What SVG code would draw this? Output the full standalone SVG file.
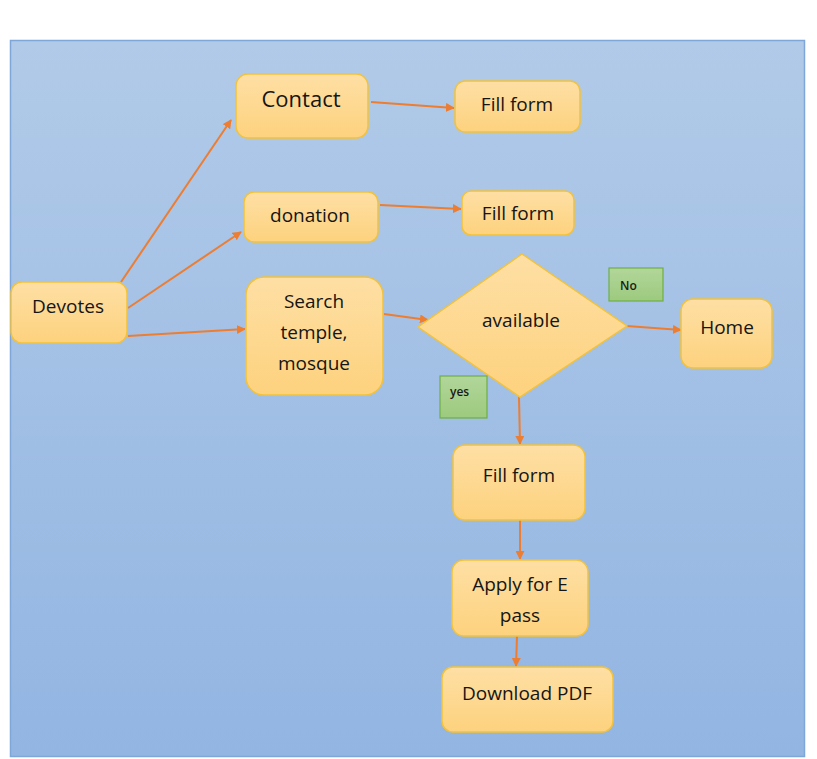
<svg xmlns="http://www.w3.org/2000/svg" width="817" height="759" viewBox="0 0 817 759">
<defs>
<linearGradient id="bg" x1="0" y1="0" x2="0" y2="1"><stop offset="0" stop-color="#b1cae8"/><stop offset="1" stop-color="#92b5e2"/></linearGradient>
<linearGradient id="nd" x1="0" y1="0" x2="0" y2="1"><stop offset="0" stop-color="#fedfa4"/><stop offset="1" stop-color="#fdd27e"/></linearGradient>
<linearGradient id="gr" x1="0" y1="0" x2="0" y2="1"><stop offset="0" stop-color="#b2d69a"/><stop offset="1" stop-color="#9cca7e"/></linearGradient>
<marker id="ah" viewBox="0 0 10 10" refX="9" refY="5" markerWidth="9" markerHeight="9" markerUnits="userSpaceOnUse" orient="auto"><path d="M0,0 L10,5 L0,10 z" fill="#ed7d31"/></marker>
</defs>
<style>
.n{fill:url(#nd);stroke:#f2c23c;stroke-width:1.5}
.g{fill:url(#gr);stroke:#6fae47;stroke-width:1.2}
.t{font-family:"Open Sans","Liberation Sans",sans-serif;font-size:19px;fill:#151515;text-anchor:middle}
.s{font-family:"Open Sans","Liberation Sans",sans-serif;font-size:12px;font-weight:600;fill:#1a1a1a}
.c{stroke:#ed7d31;stroke-width:2;fill:none;marker-end:url(#ah)}
</style>
<rect x="0" y="0" width="817" height="759" fill="#ffffff"/>
<rect x="10.5" y="40.5" width="794" height="716" fill="url(#bg)" stroke="#7fa6d9" stroke-width="1.5"/>
<g id="connectors">
<line class="c" x1="121" y1="282" x2="231" y2="120"/>
<line class="c" x1="128" y1="308" x2="241" y2="232"/>
<line class="c" x1="128" y1="336" x2="245" y2="329"/>
<line class="c" x1="371" y1="102" x2="454" y2="108"/>
<line class="c" x1="380" y1="205" x2="461" y2="209"/>
<line class="c" x1="384" y1="314" x2="428" y2="320"/>
<line class="c" x1="627" y1="326" x2="681" y2="330"/>
<line class="c" x1="519" y1="397" x2="520" y2="444"/>
<line class="c" x1="520" y1="520" x2="520" y2="559"/>
<line class="c" x1="517" y1="636" x2="516" y2="666"/>
</g>
<g id="devotes"><rect class="n" x="11" y="282" width="116" height="61" rx="11"/><text class="t" x="68" y="313">Devotes</text></g>
<g id="contact"><rect class="n" x="236" y="74" width="132" height="64" rx="12"/><text class="t" x="301" y="107" style="font-size:22px">Contact</text></g>
<g id="fillform1"><rect class="n" x="455" y="81" width="125" height="51" rx="10"/><text class="t" x="517" y="111">Fill form</text></g>
<g id="donation"><rect class="n" x="244" y="192" width="134" height="50" rx="10"/><text class="t" x="310" y="222">donation</text></g>
<g id="fillform2"><rect class="n" x="462" y="191" width="112" height="44" rx="9"/><text class="t" x="518" y="220">Fill form</text></g>
<g id="search"><rect class="n" x="246" y="277" width="137" height="118" rx="18"/><text class="t" x="314" y="308">Search</text><text class="t" x="314" y="339">temple,</text><text class="t" x="314" y="370">mosque</text></g>
<g id="available"><polygon class="n" points="522,254 627,326 520,397 418,327"/><text class="t" x="521" y="327">available</text></g>
<g id="no"><rect class="g" x="609" y="268" width="54" height="33"/><text class="s" x="620" y="290">No</text></g>
<g id="home"><rect class="n" x="681" y="299" width="91" height="69" rx="12"/><text class="t" x="727" y="334">Home</text></g>
<g id="yes"><rect class="g" x="440" y="376" width="47" height="42"/><text class="s" x="450" y="396">yes</text></g>
<g id="fillform3"><rect class="n" x="453" y="445" width="132" height="75" rx="12"/><text class="t" x="519" y="482">Fill form</text></g>
<g id="epass"><rect class="n" x="452" y="560" width="136" height="76" rx="12"/><text class="t" x="520" y="591">Apply for E</text><text class="t" x="520" y="622">pass</text></g>
<g id="download"><rect class="n" x="442" y="667" width="171" height="65" rx="11"/><text class="t" x="527" y="700">Download PDF</text></g>
</svg>
